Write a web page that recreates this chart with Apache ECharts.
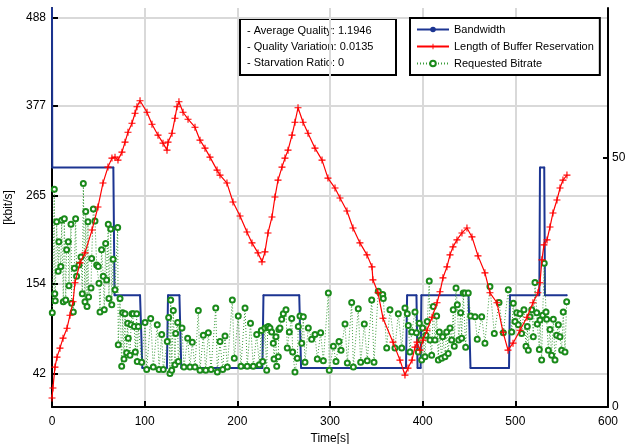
<!DOCTYPE html>
<html>
<head>
<meta charset="utf-8">
<script src="https://cdn.jsdelivr.net/npm/echarts@6/dist/echarts.min.js"></script>
<style>
  html, body { margin: 0; padding: 0; background: #fff; }
  #chart { width: 625px; height: 444px; }
</style>
</head>
<body>
<div id="chart"></div>
<script>
// Bandwidth in kbit/s, as [time s, value] step breakpoints
const bandwidth = [
  [0, 500], [0.3, 300], [66.2, 300], [67.5, 140], [95, 140], [97.5, 49],
  [124, 49], [125.2, 140], [137.5, 140], [139.5, 49], [227, 49], [228.2, 140],
  [266.8, 140], [268.8, 49], [382, 49], [383.2, 140], [393.3, 140], [394.5, 49],
  [397.8, 49], [398.6, 140], [449.5, 140], [451.6, 49], [493.2, 49], [494.2, 140],
  [525.9, 140], [526.6, 300], [531.2, 300], [532, 140], [555.5, 140]
];

// Length of buffer reservation in s, as [time s, value]
const bufferLength = [
  [0, 1.8], [1, 3.8], [3.2, 8.0], [5.4, 10.0], [8.6, 11.8], [11.9, 13.8], [16.2, 15.8],
  [19.4, 18.4], [22.7, 21.1], [24.8, 24.9], [30.2, 28.9], [35.6, 30.9], [43.2, 35.5],
  [49.6, 40.1], [55.0, 44.9], [60.4, 48.1], [64.7, 49.9], [68.0, 50.1], [71.2, 49.5],
  [75.5, 51.1], [78.8, 53.1], [82.0, 55.1], [86.3, 56.9], [89.6, 58.9], [91.7, 60.2],
  [95.0, 61.4], [102.5, 59.1], [107.9, 56.7], [114.4, 54.5], [119.8, 52.9], [124.1, 51.5],
  [125.2, 53.1], [129.5, 54.9], [132.7, 57.9], [134.9, 60.2], [137.0, 61.2], [141.4, 59.1],
  [146.8, 57.7], [154.3, 56.1], [159.7, 53.5], [165.1, 51.9], [170.5, 50.1], [178.1, 47.5],
  [181.3, 46.5], [188.8, 44.9], [195.3, 41.1], [202.9, 38.3], [210.4, 35.1], [215.8, 32.9],
  [222.3, 30.9], [226.6, 29.1], [229.8, 31.1], [233.1, 34.9], [237.4, 38.1], [240.6, 42.1],
  [243.9, 45.5], [248.2, 48.1], [251.4, 49.9], [254.7, 51.5], [259.0, 54.5], [262.2, 57.1],
  [265.5, 60.0], [270.9, 57.1], [276.3, 54.9], [283.8, 51.9], [291.4, 49.5], [297.8, 45.9],
  [305.4, 43.9], [310.8, 41.9], [318.3, 39.3], [324.8, 35.9], [332.3, 32.9], [339.9, 30.5],
  [345.3, 28.1], [346.3, 25.5], [351.8, 22.9], [357.2, 17.8], [368.0, 13.0], [375.5, 9.4],
  [380.9, 6.4], [384.2, 7.8], [388.5, 9.4], [391.7, 12.0], [393.9, 13.0], [397.1, 11.4],
  [400.3, 13.4], [404.7, 15.4], [410.1, 18.0], [415.5, 20.9], [418.7, 23.1], [421.9, 25.9],
  [426.2, 28.1], [429.5, 30.5], [432.7, 32.1], [437.0, 33.5], [442.4, 34.9], [447.8, 35.9],
  [453.2, 34.1], [459.7, 30.3], [467.2, 26.9], [472.6, 22.9], [480.2, 20.9], [486.7, 15.0],
  [492.1, 11.4], [497.5, 12.8], [505.0, 15.4], [512.6, 18.0], [519.0, 20.9], [524.4, 22.9],
  [526.6, 24.9], [528.7, 29.5], [530.9, 32.5], [534.2, 33.5], [537.4, 36.1], [540.6, 38.9],
  [544.9, 41.5], [548.2, 43.9], [551.4, 45.5], [555.7, 46.5]
];

// Requested bitrate in kbit/s, as [time s, value]
const requestedBitrate = [
  [0.3, 118], [2.5, 273], [3.0, 142], [3.5, 133], [5.0, 232], [6.7, 170], [7.4, 207],
  [9.5, 176], [10.5, 234], [12.2, 132], [13.3, 236], [14.8, 134], [15.8, 197], [17.6, 207],
  [18.3, 152], [20.5, 229], [21.2, 130], [23.0, 119], [24.1, 174], [25.5, 236], [26.6, 164],
  [29.1, 178], [31.3, 188], [32.7, 142], [33.8, 280], [35.6, 132], [36.4, 245], [37.8, 126],
  [38.8, 232], [39.5, 138], [42.1, 149], [42.8, 186], [44.6, 248], [46.4, 233], [48.2, 178],
  [49.9, 176], [50.7, 155], [51.8, 119], [53.5, 197], [55.3, 164], [56.4, 122], [57.9, 205],
  [59.0, 159], [60.7, 229], [61.4, 136], [63.4, 223], [64.5, 128], [65.9, 185], [68.0, 147],
  [70.9, 225], [71.5, 78], [73.4, 136], [75.2, 51], [76.3, 118], [77.7, 60], [78.8, 117],
  [80.6, 68], [81.7, 105], [82.3, 86], [84.2, 65], [85.3, 103], [86.3, 117], [87.7, 117],
  [88.8, 101], [89.9, 69], [91.4, 117], [92.0, 57], [93.1, 101], [96.8, 56], [100.4, 106],
  [102.2, 47], [106.5, 111], [109.3, 50], [113.6, 103], [115.5, 47], [118.4, 91], [120.1, 47],
  [124.4, 82], [125.9, 112], [127.3, 42], [128.1, 134], [129.2, 46], [130.9, 121], [132.7, 53],
  [133.5, 92], [135.6, 106], [136.3, 57], [140.3, 99], [142.4, 50], [146.4, 86], [148.9, 50],
  [151.4, 81], [154.3, 50], [157.9, 121], [159.7, 46], [163.3, 90], [165.9, 46], [168.7, 93],
  [171.6, 47], [176.7, 124], [178.4, 44], [181.3, 82], [184.2, 47], [186.7, 89], [189.2, 50],
  [194.6, 134], [196.7, 61], [201.0, 114], [203.9, 51], [208.3, 124], [210.7, 51], [214.2, 105],
  [217.2, 51], [220.9, 91], [223.7, 53], [225.9, 96], [227.4, 57], [229.8, 99], [231.7, 46],
  [232.8, 100], [233.4, 101], [235.2, 99], [237.0, 94], [238.8, 80], [239.6, 60], [241.7, 88],
  [242.5, 51], [244.2, 63], [244.8, 97], [246.0, 99], [247.9, 110], [249.6, 117], [252.5, 122],
  [253.9, 74], [256.1, 94], [258.7, 111], [259.7, 69], [262.2, 44], [264.7, 61], [265.8, 101],
  [267.6, 114], [269.5, 80], [271.2, 113], [273.0, 56], [276.6, 99], [280.2, 85], [283.8, 91],
  [286.3, 60], [289.9, 93], [292.8, 58], [298.2, 143], [299.2, 46], [303.6, 76], [306.5, 57],
  [309.7, 82], [311.9, 71], [316.2, 104], [318.7, 55], [323.4, 131], [325.2, 50], [330.5, 123],
  [333.1, 56], [337.0, 104], [340.2, 58], [345.0, 134], [347.5, 56], [352.1, 145], [356.9, 141],
  [357.5, 136], [361.2, 74], [364.7, 122], [370.1, 74], [373.7, 117], [377.4, 74], [380.9, 124],
  [383.4, 117], [384.5, 102], [386.3, 69], [388.2, 94], [391.7, 119], [393.3, 93], [395.3, 69],
  [396.4, 105], [397.9, 84], [398.9, 59], [400.0, 99], [402.5, 63], [403.6, 90], [405.0, 107],
  [407.1, 158], [407.9, 84], [409.7, 65], [411.5, 126], [413.3, 84], [415.1, 114], [416.9, 59],
  [418.0, 94], [420.5, 61], [421.6, 88], [424.1, 63], [425.9, 94], [427.6, 67], [429.5, 99],
  [431.3, 84], [433.0, 122], [434.1, 76], [436.0, 149], [437.4, 128], [438.9, 84], [441.0, 118],
  [442.1, 86], [443.8, 143], [445.7, 143], [446.4, 75], [449.2, 143], [451.8, 114], [456.5, 113],
  [458.9, 85], [463.7, 113], [467.2, 80], [472.6, 151], [477.3, 92], [482.4, 131], [487.0, 93],
  [492.4, 147], [496.1, 94], [497.8, 130], [499.6, 107], [501.5, 118], [503.2, 103], [505.0, 117],
  [506.8, 92], [509.3, 122], [511.5, 76], [512.9, 101], [514.0, 71], [515.8, 113], [517.7, 122],
  [519.4, 88], [521.2, 156], [523.1, 118], [523.7, 104], [525.9, 72], [526.6, 109], [528.4, 59],
  [529.5, 115], [531.2, 180], [533.1, 119], [533.8, 110], [535.6, 71], [537.4, 97], [539.2, 65],
  [541.0, 110], [542.8, 59], [544.6, 90], [546.4, 103], [548.2, 88], [550.0, 71], [551.7, 119],
  [553.6, 69], [555.4, 132]
];

// Axis tick values
const leftTicks = [42, 154, 265, 377, 488];
const rightTicks = [0, 50];

// Summary statistics shown in the box
const summaryLines = [
  '- Average Quality: 1.1946',
  '- Quality Variation: 0.0135',
  '- Starvation Ratio: 0'
];

const FONT = 'Liberation Sans, Arial, Helvetica, sans-serif';
const GRID_COLOR = '#d9d9d9';
const GREEN = '#1a8a1a';
const PLUS = 'path://M4.2,0H5.8V4.2H10V5.8H5.8V10H4.2V5.8H0V4.2H4.2Z';

const chart = echarts.init(document.getElementById('chart'), null, { renderer: 'canvas' });

const option = {
  animation: false,
  backgroundColor: '#fff',
  textStyle: { fontFamily: FONT },
  grid: { left: 52, right: 17, top: 8, bottom: 37, containLabel: false, outerBoundsMode: 'none' },
  xAxis: {
    type: 'value', min: 0, max: 600, interval: 100,
    name: 'Time[s]', nameLocation: 'middle', nameGap: 23,
    nameTextStyle: { color: '#000', fontSize: 12, fontFamily: FONT },
    axisLine: { show: true, onZero: false, lineStyle: { color: '#000', width: 2 } },
    axisTick: { show: true, inside: true, length: 6, lineStyle: { color: '#000', width: 2 } },
    axisLabel: { color: '#000', fontSize: 12, margin: 9, fontFamily: FONT },
    splitLine: { show: true, lineStyle: { color: GRID_COLOR, width: 2 } }
  },
  yAxis: [
    {
      type: 'value', min: 0, max: 500, position: 'left',
      name: '[kbit/s]', nameLocation: 'middle', nameGap: 29, nameRotate: 90,
      nameTextStyle: { color: '#000', fontSize: 12, fontFamily: FONT },
      axisLine: { show: true, onZero: false, lineStyle: { color: '#000', width: 2 } },
      axisTick: { show: true, inside: true, length: 6, customValues: leftTicks,
                  lineStyle: { color: '#000', width: 2 } },
      axisLabel: { color: '#000', fontSize: 12, margin: 6, customValues: leftTicks, fontFamily: FONT },
      splitLine: { show: true, customValues: leftTicks, lineStyle: { color: GRID_COLOR, width: 2 } }
    },
    {
      type: 'value', min: 0, max: 80, position: 'right',
      axisLine: { show: true, onZero: false, lineStyle: { color: '#000', width: 2 } },
      axisTick: { show: true, inside: true, length: 5, customValues: rightTicks,
                  lineStyle: { color: '#000', width: 2 } },
      axisLabel: { color: '#000', fontSize: 12, margin: 4, customValues: rightTicks, fontFamily: FONT },
      splitLine: { show: false }
    }
  ],
  legend: {
    orient: 'vertical', left: 410, top: 18,
    backgroundColor: '#fff', borderColor: '#000', borderWidth: 2,
    padding: [5, 6, 5, 6], itemGap: 4, itemWidth: 32, itemHeight: 7,
    textStyle: { color: '#000', fontSize: 11, fontFamily: FONT, lineHeight: 13 },
    data: ['Bandwidth', 'Length of Buffer Reservation', 'Requested Bitrate']
  },
  graphic: [
    {
      type: 'group', left: 239, top: 18, z: 100,
      children: [
        { type: 'rect', shape: { x: 0, y: 0, width: 156, height: 56 },
          style: { fill: '#fff', stroke: '#000', lineWidth: 2 } }
      ].concat(summaryLines.map((s, i) => ({
        type: 'text', x: 7, y: 12 + i * 16,
        style: { text: s, fill: '#000', font: '11px ' + FONT, verticalAlign: 'middle', align: 'left' }
      })))
    }
  ],
  series: [
    {
      name: 'Bandwidth', type: 'line', yAxisIndex: 0, z: 2,
      data: bandwidth,
      color: '#1c3592',
      symbol: 'circle', symbolSize: 2, showAllSymbol: true,
      lineStyle: { color: '#1c3592', width: 2 },
      itemStyle: { color: '#1c3592' }
    },
    {
      name: 'Requested Bitrate', type: 'line', yAxisIndex: 0, z: 3,
      data: requestedBitrate,
      color: GREEN,
      symbol: 'emptyCircle', symbolSize: 5, showAllSymbol: true,
      lineStyle: { color: '#3c9c3c', width: 1, type: [1, 2] },
      itemStyle: { color: GREEN, borderWidth: 1 }
    },
    {
      name: 'Length of Buffer Reservation', type: 'line', yAxisIndex: 1, z: 4,
      data: bufferLength,
      color: '#ff0000',
      symbol: PLUS, symbolSize: 7, showAllSymbol: true,
      lineStyle: { color: '#ff0000', width: 1.2 },
      itemStyle: { color: '#ff0000' }
    }
  ]
};

chart.setOption(option);
</script>
</body>
</html>
